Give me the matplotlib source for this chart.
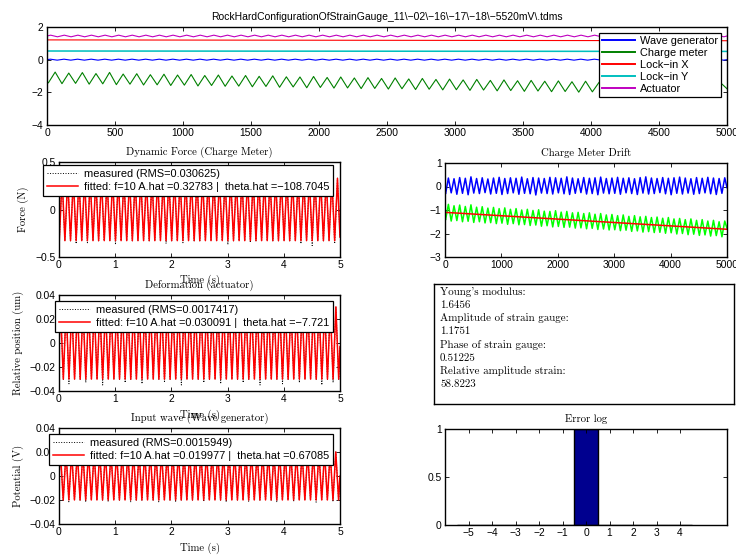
import numpy as np
import matplotlib
matplotlib.use("Agg")
import matplotlib.pyplot as plt
from matplotlib.ticker import FuncFormatter

SANS = ["Liberation Sans", "DejaVu Sans"]
SERIF = ["cmr10", "DejaVu Serif"]
plt.rcParams["font.family"] = SANS
plt.rcParams["axes.unicode_minus"] = True

# ======================= DATA =======================
main_title = "RockHardConfigurationOfStrainGauge_11\\\u221202\\\u221216\\\u221217\\\u221218\\\u22125520mV\\.tdms"
channel_names = ["Wave generator", "Charge meter", "Lock\u2212in X", "Lock\u2212in Y", "Actuator"]
channel_colors = [(0, 0, 1), (0, 0.5, 0), (1, 0, 0), (0, 0.75, 0.75), (0.75, 0, 0.75)]

# Charge meter (samples): trough at 10 + 100k, peak at 60 + 100k
charge_first_extremum = 10
charge_half_step = 50
charge_start, charge_end = -1.35, -1.78
charge_troughs = [-1.42, -1.47, -1.45, -1.50, -1.48, -1.53, -1.50, -1.55, -1.54, -1.58,
                  -1.56, -1.61, -1.58, -1.63, -1.62, -1.66, -1.64, -1.69, -1.67, -1.72,
                  -1.70, -1.74, -1.73, -1.77, -1.76, -1.80, -1.78, -1.83, -1.81, -1.85,
                  -1.84, -1.88, -1.86, -1.91, -1.89, -1.94, -1.92, -1.96, -1.95, -1.99,
                  -1.97, -2.02, -2.00, -2.05, -2.03, -2.08, -2.06, -2.11, -2.09, -2.14]
charge_peaks = [-0.76, -0.82, -0.79, -0.85, -0.78, -0.88, -0.86, -0.92, -0.89, -0.94,
                -0.91, -0.97, -0.94, -1.00, -0.97, -1.02, -0.99, -1.05, -1.06, -1.03,
                -1.09, -1.06, -1.12, -1.10, -1.15, -1.12, -1.18, -1.15, -1.21, -1.19,
                -1.24, -1.21, -1.27, -1.24, -1.29, -1.27, -1.32, -1.30, -1.35, -1.32,
                -1.38, -1.36, -1.41, -1.38, -1.44, -1.41, -1.47, -1.44, -1.50, -1.47]

# Detrended charge meter (blue, drift panel)
detr_start, detr_end = -0.25, -0.05
detr_troughs = [-0.31, -0.27, -0.33, -0.29, -0.35, -0.28, -0.30, -0.26, -0.32, -0.29,
                -0.34, -0.30, -0.27, -0.33, -0.29, -0.31, -0.36, -0.28, -0.30, -0.32,
                -0.27, -0.31, -0.34, -0.29, -0.26, -0.32, -0.30, -0.35, -0.28, -0.31,
                -0.29, -0.33, -0.27, -0.30, -0.34, -0.28, -0.32, -0.30, -0.26, -0.31,
                -0.35, -0.29, -0.32, -0.28, -0.33, -0.30, -0.27, -0.31, -0.34, -0.29]
detr_peaks = [0.36, 0.33, 0.38, 0.35, 0.41, 0.34, 0.37, 0.32, 0.36, 0.39,
              0.34, 0.37, 0.35, 0.40, 0.33, 0.38, 0.36, 0.34, 0.39, 0.37,
              0.35, 0.41, 0.36, 0.33, 0.38, 0.35, 0.37, 0.40, 0.34, 0.36,
              0.39, 0.35, 0.37, 0.33, 0.38, 0.41, 0.36, 0.34, 0.38, 0.35,
              0.37, 0.40, 0.36, 0.33, 0.38, 0.35, 0.39, 0.36, 0.34, 0.37]
drift_fit_x = [0, 5000]
drift_fit_y = [-1.10, -1.82]

# Lock-in outputs (samples)
lockin_samples = [0, 1000, 2000, 3000, 4000, 5000]
lockin_x = [1.21, 1.20, 1.19, 1.18, 1.17, 1.16]
lockin_y = [0.53, 0.525, 0.52, 0.515, 0.51, 0.505]

# Wave generator / actuator raw (samples), constant-amplitude oscillations
wavegen_offset, wavegen_amp = 0.0, 0.03
wavegen_first_peak = 25
actuator_offset, actuator_amp = 1.45, 0.05
actuator_first_peak = 27

# Left panels (time in s)
n_cycles = 50
half_period_s = 0.05
force_fit_amp = 0.32783
force_first_trough = 0.005
force_start, force_end = -0.31, -0.29
force_meas_troughs = [-0.33, -0.33, -0.33, -0.36, -0.33, -0.35, -0.33, -0.33, -0.33, -0.33,
                      -0.37, -0.33, -0.33, -0.33, -0.33, -0.33, -0.33, -0.33, -0.33, -0.36,
                      -0.33, -0.33, -0.35, -0.33, -0.33, -0.33, -0.33, -0.33, -0.33, -0.33,
                      -0.37, -0.33, -0.33, -0.33, -0.35, -0.33, -0.33, -0.33, -0.33, -0.33,
                      -0.33, -0.33, -0.33, -0.36, -0.33, -0.38, -0.33, -0.33, -0.33, -0.36]
force_meas_peaks = [0.33, 0.33, 0.34, 0.33, 0.33, 0.33, 0.33, 0.34, 0.33, 0.33,
                    0.33, 0.33, 0.33, 0.33, 0.34, 0.33, 0.33, 0.33, 0.33, 0.33,
                    0.34, 0.33, 0.33, 0.33, 0.33, 0.33, 0.33, 0.34, 0.33, 0.33,
                    0.33, 0.33, 0.33, 0.34, 0.33, 0.33, 0.33, 0.33, 0.33, 0.34,
                    0.33, 0.33, 0.33, 0.33, 0.33, 0.34, 0.33, 0.33, 0.33, 0.33]
force_rms = "0.030625"
force_theta = "\u2212108.7045"

pos_fit_amp = 0.030091
pos_first_peak = 0.027
pos_start, pos_end = -0.004, -0.003
pos_meas_peaks = [0.0302, 0.0302, 0.031, 0.0302, 0.0302, 0.0302, 0.031, 0.0302, 0.0302, 0.0302,
                  0.0302, 0.031, 0.0302, 0.0302, 0.0302, 0.0302, 0.0302, 0.031, 0.0302, 0.0302,
                  0.0302, 0.0302, 0.0302, 0.0302, 0.031, 0.0302, 0.0302, 0.0302, 0.0302, 0.0302,
                  0.031, 0.0302, 0.0302, 0.0302, 0.0302, 0.0302, 0.0302, 0.031, 0.0302, 0.0302,
                  0.0302, 0.0302, 0.031, 0.0302, 0.0302, 0.0302, 0.0302, 0.0302, 0.031, 0.0302]
pos_meas_troughs = [-0.0302, -0.034, -0.0302, -0.0302, -0.033, -0.0302, -0.0302, -0.035, -0.0302, -0.0302,
                    -0.0302, -0.033, -0.0302, -0.0302, -0.034, -0.0302, -0.0302, -0.0302, -0.033, -0.0302,
                    -0.0302, -0.035, -0.0302, -0.0302, -0.0302, -0.033, -0.0302, -0.0302, -0.034, -0.0302,
                    -0.0302, -0.0302, -0.033, -0.0302, -0.0302, -0.035, -0.0302, -0.0302, -0.0302, -0.034,
                    -0.0302, -0.0302, -0.033, -0.0302, -0.0302, -0.0302, -0.035, -0.0302, -0.033, -0.0302]
pos_rms = "0.0017417"
pos_theta = "\u22127.721"

pot_fit_amp = 0.019977
pot_first_peak = 0.025
pot_start, pot_end = 0.0, 0.0
pot_meas_peaks = [0.0201, 0.0201, 0.0205, 0.0201, 0.0201, 0.0201, 0.0201, 0.0205, 0.0201, 0.0201,
                  0.0201, 0.0201, 0.0201, 0.0201, 0.0205, 0.0201, 0.0201, 0.0201, 0.0201, 0.0201,
                  0.0205, 0.0201, 0.0201, 0.0201, 0.0201, 0.0201, 0.0201, 0.0205, 0.0201, 0.0201,
                  0.0201, 0.0201, 0.0201, 0.0205, 0.0201, 0.0201, 0.0201, 0.0201, 0.0201, 0.0201,
                  0.0205, 0.0201, 0.0201, 0.0201, 0.0201, 0.0201, 0.0205, 0.0201, 0.0201, 0.0201]
pot_meas_troughs = [-0.0201, -0.0215, -0.0201, -0.0201, -0.0218, -0.0201, -0.0201, -0.0201, -0.0215, -0.0201,
                    -0.0201, -0.0201, -0.0218, -0.0201, -0.0201, -0.0201, -0.0201, -0.0215, -0.0201, -0.0201,
                    -0.0218, -0.0201, -0.0201, -0.0201, -0.0201, -0.0215, -0.0201, -0.0201, -0.0201, -0.0218,
                    -0.0201, -0.0201, -0.0201, -0.0215, -0.0201, -0.0201, -0.0201, -0.0201, -0.0218, -0.0201,
                    -0.0201, -0.0215, -0.0201, -0.0201, -0.0201, -0.0218, -0.0201, -0.0201, -0.0215, -0.0201]
pot_rms = "0.0015949"
pot_theta = "0.67085"
fit_freq = "10"

info_lines = ["Young's modulus:", "1.6456", "Amplitude of strain gauge:", "1.1751",
              "Phase of strain gauge:", "0.51225", "Relative amplitude strain:", "58.8223"]

err_bins = [-5, -4, -3, -2, -1, 0, 1, 2, 3, 4]
err_counts = [0, 0, 0, 0, 0, 1, 0, 0, 0, 0]


# ======================= HELPERS =======================
def extrema_series(t_first, half_step, first_vals, second_vals, t0, v0, t1, v1):
    first_vals = np.asarray(first_vals, float)
    second_vals = np.asarray(second_vals, float)
    vals = np.empty(len(first_vals) + len(second_vals))
    vals[0::2] = first_vals
    vals[1::2] = second_vals
    t = t_first + half_step * np.arange(len(vals))
    keep = t < t1
    return np.r_[t0, t[keep], t1], np.r_[v0, vals[keep], v1]


W, H = 736, 556
fig = plt.figure(figsize=(W / 100, H / 100), dpi=100)

gfmt = FuncFormatter(lambda v, p: ("%g" % v).replace("-", "\u2212"))


def px_axes(x0, y0, x1, y1):
    return fig.add_axes([x0 / W, 1 - y1 / H, (x1 - x0) / W, (y1 - y0) / H])


def style(ax):
    ax.tick_params(direction="in", length=3, width=0.6, top=True, right=True,
                   labelsize=7.4, pad=2.5)
    ax.xaxis.set_major_formatter(gfmt)
    ax.yaxis.set_major_formatter(gfmt)
    for s in ax.spines.values():
        s.set_linewidth(1.0)


TFS = 7.7  # serif font size
LFS = 7.9  # legend font size

# ======================= TOP PANEL =======================
ax0 = px_axes(47, 27, 727, 125)
style(ax0)
t_wg, v_wg = extrema_series(wavegen_first_peak, charge_half_step,
                            np.full(n_cycles, wavegen_offset + wavegen_amp),
                            np.full(n_cycles, wavegen_offset - wavegen_amp),
                            0, wavegen_offset, 5000, wavegen_offset)
t_cm, v_cm = extrema_series(charge_first_extremum, charge_half_step, charge_troughs, charge_peaks,
                            0, charge_start, 5000, charge_end)
t_ac, v_ac = extrema_series(actuator_first_peak, charge_half_step,
                            np.full(n_cycles, actuator_offset + actuator_amp),
                            np.full(n_cycles, actuator_offset - actuator_amp),
                            0, actuator_offset, 5000, actuator_offset)
lw0 = 0.8
ax0.plot(t_wg, v_wg, color=channel_colors[0], lw=lw0, label=channel_names[0])
ax0.plot(t_cm, v_cm, color=channel_colors[1], lw=lw0, label=channel_names[1])
ax0.plot(lockin_samples, lockin_x, color=channel_colors[2], lw=lw0, label=channel_names[2])
ax0.plot(lockin_samples, lockin_y, color=channel_colors[3], lw=lw0 * 1.4, label=channel_names[3])
ax0.plot(t_ac, v_ac, color=channel_colors[4], lw=lw0, label=channel_names[4])
ax0.set_xlim(0, 5000)
ax0.set_ylim(-4, 2)
ax0.set_xticks(np.arange(0, 5001, 500))
ax0.set_yticks([-4, -2, 0, 2])
ax0.set_title(main_title, fontsize=7.5, pad=5)
leg0 = ax0.legend(loc="upper right", bbox_to_anchor=(721 / W, 1 - 33 / H),
                  bbox_transform=fig.transFigure, fontsize=LFS, fancybox=False,
                  edgecolor="black", framealpha=1, borderpad=0.3, labelspacing=0.18,
                  handlelength=3.0, handletextpad=0.4, borderaxespad=0)
leg0.get_frame().set_linewidth(0.9)
for h in leg0.get_lines():
    h.set_linewidth(1.4)


# ======================= LEFT PANELS =======================
def left_panel(box, title, ylabel, ylim, yticks, fit_amp, t_first, first_is_peak,
               meas_peaks, meas_troughs, v0, v1, rms, theta, leg_top, ylab_x):
    ax = px_axes(*box)
    style(ax)
    fit_hi = np.full(n_cycles, fit_amp)
    fit_lo = np.full(n_cycles, -fit_amp)
    if first_is_peak:
        tm, vm = extrema_series(t_first, half_period_s, meas_peaks, meas_troughs, 0, v0, 5, v1)
        tf, vf = extrema_series(t_first, half_period_s, fit_hi, fit_lo, 0, v0, 5, v1)
    else:
        tm, vm = extrema_series(t_first, half_period_s, meas_troughs, meas_peaks, 0, v0, 5, v1)
        tf, vf = extrema_series(t_first, half_period_s, fit_lo, fit_hi, 0, v0, 5, v1)
    ax.plot(tm, vm, color="black", ls=":", lw=0.7, label="measured (RMS=%s)" % rms)
    ax.plot(tf, vf, color="red", lw=1.1,
            label="fitted: f=%s A.hat =%s |  theta.hat =%s" % (fit_freq, "%g" % fit_amp, theta))
    ax.set_xlim(0, 5)
    ax.set_ylim(*ylim)
    ax.set_yticks(yticks)
    ax.set_xticks(range(0, 6))
    ax.set_title(title, fontfamily=SERIF, fontsize=TFS, pad=5)
    ax.set_xlabel("Time (s)", fontfamily=SERIF, fontsize=TFS)
    ax.xaxis.set_label_coords(0.5, -0.19)
    ax.set_ylabel(ylabel, fontfamily=SERIF, fontsize=TFS)
    ax.yaxis.set_label_coords(ylab_x, 0.5)
    leg = ax.legend(loc="upper right", bbox_to_anchor=(333 / W, 1 - leg_top / H),
                    bbox_transform=fig.transFigure, fontsize=LFS, fancybox=False,
                    edgecolor="black", framealpha=1, borderpad=0.35, labelspacing=0.28,
                    handlelength=2.8, handletextpad=0.55, borderaxespad=0)
    leg.get_frame().set_linewidth(0.9)
    return ax


left_panel((59, 162, 340, 257), "Dynamic Force (Charge Meter)", "Force (N)",
           (-0.5, 0.5), [-0.5, 0, 0.5], force_fit_amp, force_first_trough, False,
           force_meas_peaks, force_meas_troughs, force_start, force_end,
           force_rms, force_theta, 165, -0.105)
left_panel((59, 295, 340, 391), "Deformation (actuator)", "Relative position (um)",
           (-0.04, 0.04), [-0.04, -0.02, 0, 0.02, 0.04], pos_fit_amp, pos_first_peak, True,
           pos_meas_peaks, pos_meas_troughs, pos_start, pos_end,
           pos_rms, pos_theta, 301, -0.125)
left_panel((59, 428, 340, 524), "Input wave (Wave generator)", "Potential (V)",
           (-0.04, 0.04), [-0.04, -0.02, 0, 0.02, 0.04], pot_fit_amp, pot_first_peak, True,
           pot_meas_peaks, pot_meas_troughs, pot_start, pot_end,
           pot_rms, pot_theta, 434, -0.125)

# ======================= DRIFT PANEL =======================
ax4 = px_axes(445, 163, 727, 257)
style(ax4)
t_d, v_d = extrema_series(charge_first_extremum, charge_half_step, detr_troughs, detr_peaks,
                          0, detr_start, 5000, detr_end)
ax4.plot(t_d, v_d, color=(0, 0, 1), lw=1.1)
ax4.plot(t_cm, v_cm, color=(0, 1, 0), lw=1.1)
ax4.plot(drift_fit_x, drift_fit_y, color=(1, 0, 0), lw=1.1)
ax4.set_xlim(0, 5000)
ax4.set_ylim(-3, 1)
ax4.set_yticks([-3, -2, -1, 0, 1])
ax4.set_xticks(np.arange(0, 5001, 1000))
ax4.set_title("Charge Meter Drift", fontfamily=SERIF, fontsize=TFS, pad=5)

# ======================= INFO BOX =======================
ax5 = px_axes(434, 284, 734, 404)
ax5.set_xticks([])
ax5.set_yticks([])
for s in ax5.spines.values():
    s.set_linewidth(1.0)
for i, line in enumerate(info_lines):
    ax5.text(6 / 300, 1 - (8 + 13.2 * i) / 120, line, transform=ax5.transAxes,
             fontfamily=SERIF, fontsize=7.9, va="center", ha="left")

# ======================= ERROR LOG =======================
ax6 = px_axes(445, 429, 727, 525)
style(ax6)
ax6.bar(err_bins, err_counts, width=1.0, color=(0, 0, 0.5625), edgecolor="black", lw=1.0)
ax6.set_xlim(-6, 6)
ax6.set_ylim(0, 1)
ax6.set_xticks(err_bins)
ax6.set_yticks([0, 0.5, 1])
ax6.set_title("Error log", fontfamily=SERIF, fontsize=TFS, pad=5)

fig.savefig("out.png", dpi=100)
